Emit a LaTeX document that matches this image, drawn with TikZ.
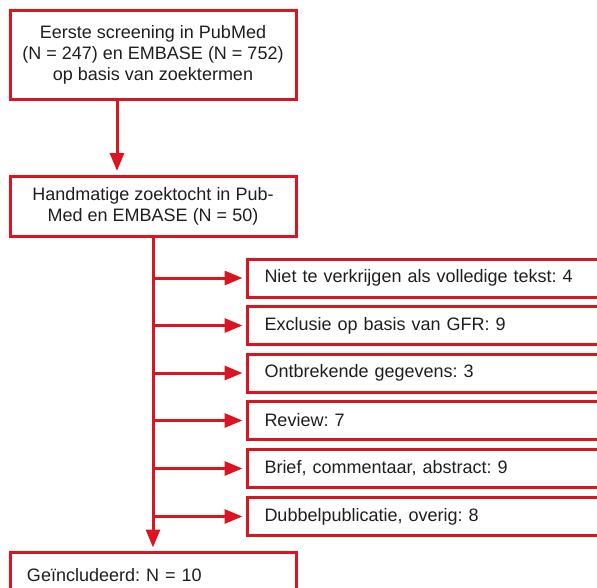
\documentclass[tikz,border=0pt]{standalone}
\usepackage{fontspec}
\setmainfont{Liberation Sans}
\usetikzlibrary{arrows.meta, calc}
\definecolor{flowred}{RGB}{218,20,32}
\frenchspacing
\tikzset{
    my-box/.style={
        draw=flowred, line width=3pt, fill=white, rectangle,
        font=\fontsize{18}{21}\selectfont, text=black!88
    },
    my-main-box/.style={
        my-box, minimum width=286pt, align=center
    },
    my-side-box/.style={
        my-box, anchor=west, minimum height=38pt, text width=370pt,
        inner xsep=17pt, align=left
    },
    my-flow/.style={
        draw=flowred, line width=3pt, shorten >=3.5pt,
        -{Triangle[length=18pt, width=14pt]}
    },
}

\begin{document}
\begin{tikzpicture}[x=1pt, y=-1pt]

        % FRAME
        \useasboundingbox (0,0) rectangle (597,587);
        \clip (0,0) rectangle (597,587);

        % MAIN BOXES
        \node[my-main-box, minimum height=89pt] (SCREEN) at (153,54.5)
            {Eerste screening in PubMed\\(N = 247) en EMBASE (N = 752)\\op basis van zoektermen};
        \node[my-main-box, minimum height=60pt] (HAND)   at (153,206)
            {Handmatige zoektocht in Pub-\\Med en EMBASE (N = 50)};
        \node[my-box, anchor=north, minimum height=46pt, text width=252pt,
              inner xsep=17pt, align=left] (INCL) at (153,551)
            {Geïncludeerd: N = 10};

        % EXCLUSION BOXES
        \node[my-side-box] (EXCL1) at (246,278)   {Niet te verkrijgen als volledige tekst: 4};
        \node[my-side-box] (EXCL2) at (246,325.5) {Exclusie op basis van GFR: 9};
        \node[my-side-box] (EXCL3) at (246,373)   {Ontbrekende gegevens: 3};
        \node[my-side-box] (EXCL4) at (246,420.5) {Review: 7};
        \node[my-side-box] (EXCL5) at (246,468.5) {Brief, commentaar, abstract: 9};
        \node[my-side-box] (EXCL6) at (246,516.5) {Dubbelpublicatie, overig: 8};

        % MAIN FLOW
        \draw[my-flow] ($(SCREEN.south) + (-36,0)$) -- ($(HAND.north) + (-36,0)$);
        \draw[my-flow] (HAND.south) -- (INCL.north);

        % EXCLUSION ARROWS
        \draw[my-flow] (HAND.south |- EXCL1.west) -- (EXCL1.west);
        \draw[my-flow] (HAND.south |- EXCL2.west) -- (EXCL2.west);
        \draw[my-flow] (HAND.south |- EXCL3.west) -- (EXCL3.west);
        \draw[my-flow] (HAND.south |- EXCL4.west) -- (EXCL4.west);
        \draw[my-flow] (HAND.south |- EXCL5.west) -- (EXCL5.west);
        \draw[my-flow] (HAND.south |- EXCL6.west) -- (EXCL6.west);

    \end{tikzpicture}
\end{document}
